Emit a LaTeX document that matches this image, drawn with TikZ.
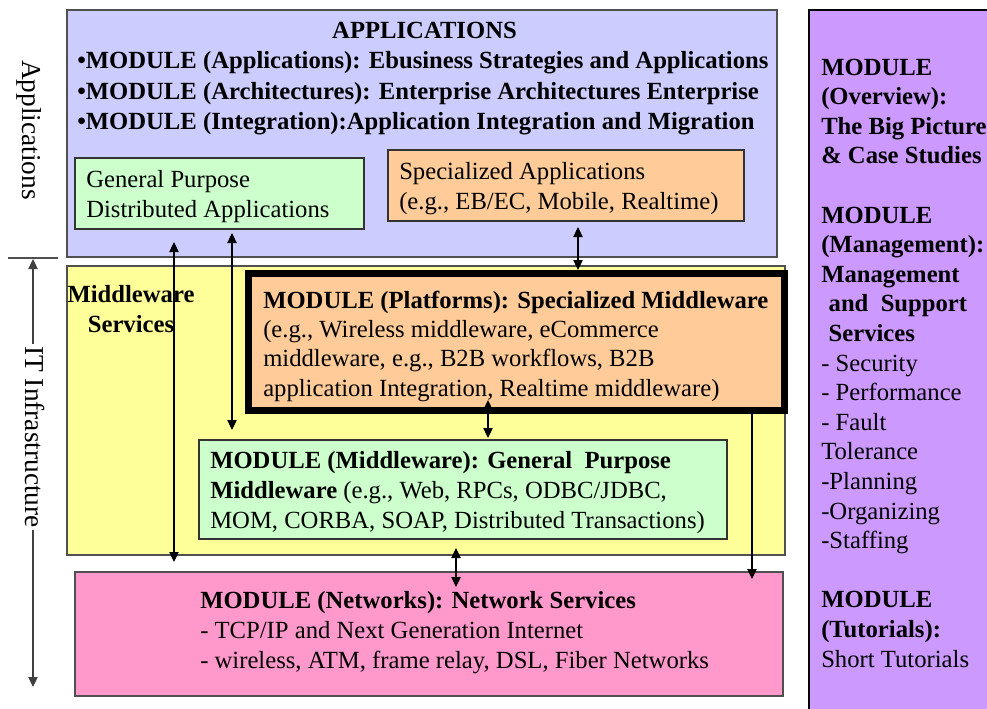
\documentclass[tikz,border=0pt]{standalone}
\usepackage{fontspec}
\setmainfont{Liberation Serif}
\usetikzlibrary{arrows.meta,fit}
\definecolor{appblue}{HTML}{CCCCFF}
\definecolor{mwyellow}{HTML}{FFFF99}
\definecolor{netpink}{HTML}{FF99CC}
\definecolor{mgmtpurple}{HTML}{CC99FF}
\definecolor{lightgreen}{HTML}{CCFFCC}
\definecolor{lightorange}{HTML}{FFCC99}
\definecolor{boxline}{HTML}{505050}
\begin{document}
\begin{tikzpicture}[x=0.75pt,y=-0.75pt,
  >={Triangle[length=7.5pt,width=7pt]},
  box/.style={draw=boxline, line width=1.1pt, inner sep=0pt},
  txt/.style={anchor=base west, align=left, inner sep=0pt, font=\fontsize{18.5}{22.4}\selectfont},
  side/.style={inner sep=0pt, font=\fontsize{20.5}{24}\selectfont, rotate=-90},
  arr/.style={line width=0.8pt}]
\useasboundingbox (0,0) rectangle (987,708);
\clip (0,0) rectangle (987,708);

% big layer boxes
\node[box, fill=appblue, fit={(67,10) (777,257)}] (apps) {};
\node[box, fill=mwyellow, fit={(67,266) (785,555)}] (mw) {};
\node[box, fill=netpink, fit={(75,572) (783,696)}] (net) {};
\node[draw=black, line width=1.6pt, fill=mgmtpurple, inner sep=0pt, fit={(809,10) (1005,730)}] (mgmt) {};

% inner boxes
\node[box, draw=black!80, fill=lightgreen, fit={(75,158) (364,229)}] (gpa) {};
\node[box, draw=black!80, fill=lightorange, fit={(388,150) (744,221)}] (spa) {};
\node[box, draw=black!80, fill=lightgreen, fit={(199,440) (727,539)}] (gpm) {};

% arrow from platforms down to networks (start hidden under thick border)
\coordinate (a6s) at (752,411);
\coordinate (a6e) at (752,579);
\draw[arr,->] (a6s) -- (a6e);

\node[draw=black, line width=5.3pt, fill=lightorange, inner sep=0pt, fit={(248.5,273.5) (784.5,410.5)}] (plat) {};

% texts (anchor = baseline of the last line)
\node[anchor=base, inner sep=0pt, font=\fontsize{18.5}{22.4}\selectfont\bfseries] (apptitle) at (424.5,38.5) {APPLICATIONS};
\node[txt, font=\fontsize{18.5}{22.7}\selectfont\bfseries] (applist) at (77,129.5) {•MODULE (Applications): Ebusiness Strategies and Applications\\•MODULE (Architectures): Enterprise Architectures Enterprise\\•MODULE (Integration):Application Integration and Migration};
\node[txt, font=\fontsize{18.5}{21.8}\selectfont] (gpatxt) at (86,217) {General Purpose\\Distributed Applications};
\node[txt, font=\fontsize{18.5}{21.8}\selectfont] (spatxt) at (399,209) {Specialized Applications\\(e.g., EB/EC, Mobile, Realtime)};
\node[anchor=base, align=center, inner sep=0pt, font=\fontsize{18.5}{21.8}\selectfont\bfseries] (mwtxt) at (131,332) {Middleware\\Services};
\node[txt, font=\fontsize{18.5}{22}\selectfont] (plattxt) at (263,396) {\textbf{MODULE (Platforms): Specialized Middleware}\\(e.g., Wireless middleware, eCommerce\\middleware, e.g., B2B workflows, B2B\\application Integration, Realtime middleware)};
\node[txt, font=\fontsize{18.5}{22.5}\selectfont] (gpmtxt) at (210,528) {\textbf{MODULE (Middleware): General\ \ Purpose}\\\textbf{Middleware} (e.g., Web, RPCs, ODBC/JDBC,\\MOM, CORBA, SOAP, Distributed Transactions)};
\node[txt, font=\fontsize{18.5}{22.5}\selectfont] (nettxt) at (200,668) {\textbf{MODULE (Networks): Network Services}\\- TCP/IP and Next Generation Internet\\- wireless, ATM, frame relay, DSL, Fiber Networks};
\node[txt, font=\fontsize{18.5}{22.2}\selectfont] (mgmttxt) at (821,667) {\textbf{MODULE}\\\textbf{(Overview):}\\\textbf{The Big Picture}\\\textbf{\& Case Studies}\\[22.2pt]\textbf{MODULE}\\\textbf{(Management):}\\\textbf{Management}\\\textbf{\hspace*{0.3em}and\ \ Support}\\\textbf{\hspace*{0.3em}Services}\\- Security\\- Performance\\- Fault\\Tolerance\\-Planning\\-Organizing\\-Staffing\\[22.2pt]\textbf{MODULE}\\\textbf{(Tutorials):}\\Short Tutorials};

% side labels
\node[side] (lblapp) at (29,130) {Applications};
\coordinate (sepl) at (8,258);
\coordinate (sepr) at (58,258);
\draw[line width=0.8pt, boxline] (sepl) -- (sepr);
\coordinate (itt) at (33,259);
\coordinate (itb) at (33,687);
\draw[arr,<->, black!75] (itt) -- (itb);
\node[side, fill=white, inner ysep=1pt, inner xsep=2pt] (lblit) at (35,437) {IT Infrastructure};

% connectors
\coordinate (a1s) at (174,242);
\coordinate (a1e) at (174,562);
\draw[arr,<->] (a1s) -- (a1e);
\coordinate (a2s) at (232,233);
\coordinate (a2e) at (232,430);
\draw[arr,<->] (a2s) -- (a2e);
\coordinate (a3s) at (578,227);
\coordinate (a3e) at (578,270);
\draw[arr,<->] (a3s) -- (a3e);
\coordinate (a4s) at (488,400);
\coordinate (a4e) at (488,438);
\draw[arr,<->] (a4s) -- (a4e);
\coordinate (a5s) at (456,548);
\coordinate (a5e) at (456,587);
\draw[arr,<->] (a5s) -- (a5e);
\end{tikzpicture}
\end{document}
